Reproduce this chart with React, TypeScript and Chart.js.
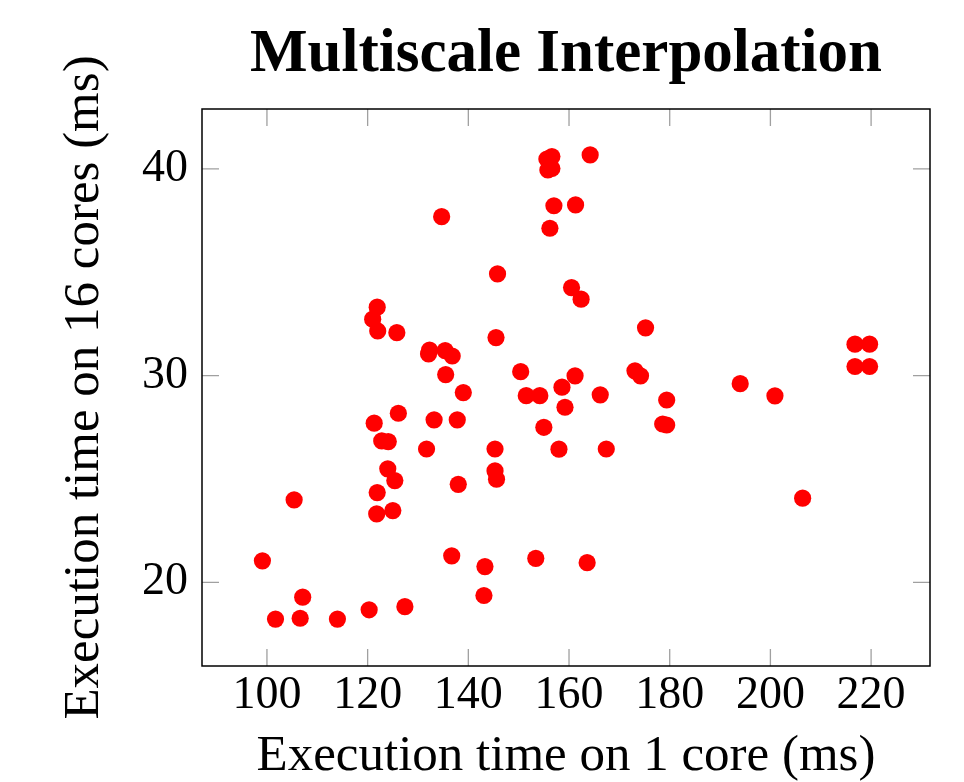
import React, { useEffect, useRef } from "react";
import { Chart, registerables } from "chart.js";

Chart.register(...registerables);

const titleText = "Multiscale Interpolation";
const xAxisLabel = "Execution time on 1 core (ms)";
const yAxisLabel = "Execution time on 16 cores (ms)";

const xTickValues = [100, 120, 140, 160, 180, 200, 220];
const yTickValues = [20, 30, 40];

const xRange = [87.1, 231.7];
const yRange = [15.95, 42.9];

const xValues = [
  99.1, 101.7, 105.4, 106.6, 107.1, 114.0, 120.3, 121.0, 121.9, 122.0,
  121.3, 121.9, 121.8, 122.8, 124.1, 124.0, 125.0, 125.4, 125.8, 126.1,
  127.4, 131.7, 132.3, 132.1, 133.2, 134.7, 135.4, 136.8, 135.5, 136.7,
  137.8, 138.0, 139.0, 143.1, 143.3, 145.3, 145.3, 145.6, 145.5, 145.8,
  150.4, 151.5, 153.4, 154.2, 155.0, 155.6, 156.6, 155.8, 156.6, 157.0,
  156.2, 158.0, 158.6, 159.2, 160.5, 161.2, 161.3, 162.4, 163.6, 164.2,
  166.2, 167.4, 173.1, 174.2, 175.2, 178.6, 179.4, 179.4, 194.0, 200.9,
  206.4, 216.8, 219.7, 216.8, 219.7,
];

const yValues = [
  21.04, 18.22, 23.99, 18.26, 19.28, 18.22, 18.67, 32.73, 33.31, 32.16,
  27.7, 24.34, 23.31, 26.84, 26.81, 25.49, 23.47, 24.92, 32.08, 28.18,
  18.82, 26.45, 31.24, 31.05, 27.86, 37.69, 31.21, 30.95, 30.05, 21.28,
  27.86, 24.74, 29.18, 19.36, 20.76, 26.45, 25.39, 24.99, 31.84, 34.92,
  30.19, 29.03, 21.16, 29.03, 27.5, 40.48, 40.6, 39.95, 40.02, 38.22,
  37.13, 26.44, 29.44, 28.47, 34.26, 29.99, 38.26, 33.7, 20.95, 40.68,
  29.07, 26.45, 30.23, 29.99, 32.31, 27.66, 27.61, 28.82, 29.61, 29.02,
  24.07, 31.52, 31.52, 30.44, 30.44,
];

const FONT = "'Liberation Serif', 'Times New Roman', serif";

const frameAndTicks = {
  id: "frameAndTicks",
  beforeDatasetsDraw(chart: any) {
    const { ctx, chartArea } = chart;
    const xs = chart.scales.x;
    const ys = chart.scales.y;
    const len = 17;
    ctx.save();
    ctx.strokeStyle = "#a0a0a0";
    ctx.lineWidth = 1.3;
    ctx.beginPath();
    for (const v of xTickValues) {
      const px = xs.getPixelForValue(v);
      ctx.moveTo(px, chartArea.bottom);
      ctx.lineTo(px, chartArea.bottom - len);
      ctx.moveTo(px, chartArea.top);
      ctx.lineTo(px, chartArea.top + len);
    }
    for (const v of yTickValues) {
      const py = ys.getPixelForValue(v);
      ctx.moveTo(chartArea.left, py);
      ctx.lineTo(chartArea.left + len, py);
      ctx.moveTo(chartArea.right, py);
      ctx.lineTo(chartArea.right - len, py);
    }
    ctx.stroke();
    ctx.restore();
  },
  afterDraw(chart: any) {
    const { ctx, chartArea } = chart;
    ctx.save();
    ctx.strokeStyle = "#000";
    ctx.lineWidth = 1.5;
    ctx.strokeRect(
      chartArea.left,
      chartArea.top,
      chartArea.right - chartArea.left,
      chartArea.bottom - chartArea.top
    );
    ctx.restore();
  },
};

export default function App() {
  const canvasRef = useRef<HTMLCanvasElement | null>(null);

  useEffect(() => {
    document.body.style.margin = "0";
    const canvas = canvasRef.current;
    if (!canvas) return;
    const points = xValues.map((x, i) => ({ x, y: yValues[i] }));
    const chart = new Chart(canvas, {
      type: "scatter",
      data: {
        datasets: [
          {
            data: points,
            backgroundColor: "#ff0000",
            borderColor: "#ff0000",
            borderWidth: 0,
            pointRadius: 8.6,
            pointHoverRadius: 8.6,
          },
        ],
      },
      options: {
        responsive: false,
        animation: false,
        devicePixelRatio: 1,
        layout: { padding: { left: 0, top: 0, right: 34, bottom: 0 } },
        plugins: {
          legend: { display: false },
          tooltip: { enabled: false },
          title: {
            display: true,
            text: titleText,
            fullSize: false,
            color: "#000",
            font: { family: FONT, size: 61, weight: "bold", lineHeight: 1 },
            padding: { top: 24.5, bottom: 23.5 },
          },
        },
        scales: {
          x: {
            type: "linear",
            min: xRange[0],
            max: xRange[1],
            afterBuildTicks: (s: any) => {
              s.ticks = xTickValues.map((v) => ({ value: v }));
            },
            afterFit: (s: any) => {
              s.height = 116;
            },
            grid: { display: false, drawTicks: false },
            border: { display: false },
            ticks: {
              color: "#000",
              font: { family: FONT, size: 46, lineHeight: 1 },
              padding: 7,
              maxRotation: 0,
              autoSkip: false,
            },
            title: {
              display: true,
              text: xAxisLabel,
              color: "#000",
              font: { family: FONT, size: 51, lineHeight: 1 },
              padding: { top: 0, bottom: 0 },
            },
          },
          y: {
            type: "linear",
            min: yRange[0],
            max: yRange[1],
            afterBuildTicks: (s: any) => {
              s.ticks = yTickValues.map((v) => ({ value: v }));
            },
            afterFit: (s: any) => {
              s.width = 202;
            },
            grid: { display: false, drawTicks: false },
            border: { display: false },
            ticks: {
              color: "#000",
              font: { family: FONT, size: 46, lineHeight: 1 },
              padding: 14,
              autoSkip: false,
            },
            title: {
              display: true,
              text: yAxisLabel,
              color: "#000",
              font: { family: FONT, size: 51, lineHeight: 1 },
              padding: { top: 59.5, bottom: 0 },
            },
          },
        },
      },
      plugins: [frameAndTicks],
    });
    return () => chart.destroy();
  }, []);

  return (
    <div style={{ position: "absolute", left: 0, top: 0, width: 964, height: 782, background: "#fff" }}>
      <canvas ref={canvasRef} width={964} height={782} style={{ width: 964, height: 782, display: "block" }} />
    </div>
  );
}
